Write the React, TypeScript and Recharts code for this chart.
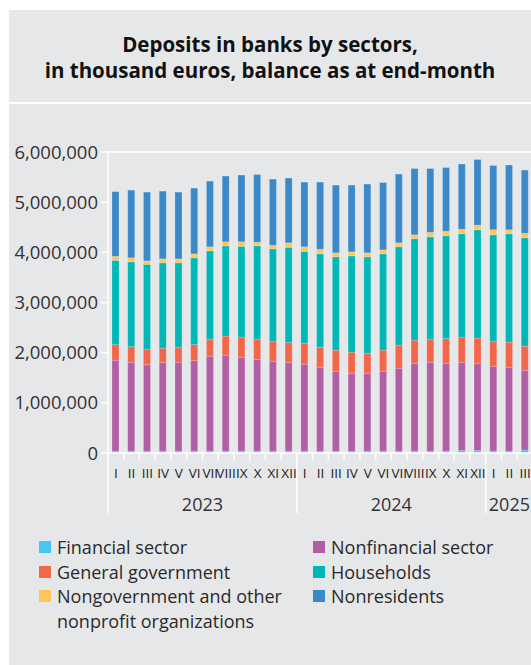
import { BarChart, Bar, XAxis, YAxis, ReferenceLine } from 'recharts'

const yearLabels = ['2023', '2024', '2025']
const monthsPerYear = [12, 12, 3]
const romanMonths = ['I', 'II', 'III', 'IV', 'V', 'VI', 'VII', 'VIII', 'IX', 'X', 'XI', 'XII']
const yTicks = [0, 1000000, 2000000, 3000000, 4000000, 5000000, 6000000]

// thousand euros, end of month, Jan 2023 .. Mar 2025
const financial = [
  40000, 40000, 40000, 40000, 40000, 40000, 40000, 40000, 40000, 40000, 40000, 40000,
  40000, 40000, 40000, 40000, 40000, 40000, 40000, 40000, 40000, 40000, 50000, 50000,
  40000, 40000, 60000,
]
const nonfinancial = [
  1810000, 1770000, 1720000, 1760000, 1770000, 1800000, 1890000, 1910000, 1870000, 1820000, 1790000, 1760000,
  1730000, 1670000, 1590000, 1550000, 1550000, 1590000, 1650000, 1750000, 1770000, 1750000, 1760000, 1740000,
  1690000, 1670000, 1590000,
]
const generalGov = [
  310000, 310000, 310000, 290000, 300000, 320000, 340000, 380000, 400000, 410000, 400000, 400000,
  420000, 400000, 420000, 420000, 400000, 420000, 460000, 460000, 460000, 490000, 500000, 500000,
  500000, 500000, 480000,
]
const households = [
  1680000, 1690000, 1690000, 1700000, 1680000, 1730000, 1760000, 1800000, 1810000, 1860000, 1840000, 1900000,
  1830000, 1860000, 1860000, 1920000, 1920000, 1920000, 1960000, 2020000, 2040000, 2050000, 2060000, 2160000,
  2120000, 2160000, 2160000,
]
const nongov = [
  80000, 80000, 70000, 80000, 80000, 80000, 80000, 80000, 90000, 70000, 70000, 90000,
  90000, 90000, 80000, 80000, 80000, 80000, 80000, 80000, 90000, 90000, 90000, 90000,
  100000, 80000, 90000,
]
const nonresidents = [
  1290000, 1350000, 1370000, 1350000, 1330000, 1310000, 1310000, 1310000, 1330000, 1350000, 1320000, 1290000,
  1290000, 1340000, 1350000, 1330000, 1370000, 1340000, 1370000, 1320000, 1270000, 1270000, 1300000, 1310000,
  1280000, 1290000, 1260000,
]

const series = [
  { key: 'financial', name: 'Financial sector', color: '#47c6ef', values: financial },
  { key: 'nonfinancial', name: 'Nonfinancial sector', color: '#b05fa5', values: nonfinancial },
  { key: 'generalGov', name: 'General government', color: '#f26649', values: generalGov },
  { key: 'households', name: 'Households', color: '#00b7b8', values: households },
  { key: 'nongov', name: 'Nongovernment and other nonprofit organizations', color: '#fec759', values: nongov },
  { key: 'nonresidents', name: 'Nonresidents', color: '#3b89c9', values: nonresidents },
]

const rows: { month: string; year: string }[] = []
yearLabels.forEach((year, yi) => {
  for (let m = 0; m < monthsPerYear[yi]; m++) rows.push({ month: romanMonths[m], year })
})

const data = rows.map((r, i) => {
  const row: Record<string, string | number> = { id: `${r.year}-${r.month}`, ...r }
  series.forEach((s) => (row[s.key] = s.values[i]))
  return row
})

const FONT = '"Open Sans", "Noto Sans", sans-serif'
const CHART_W = 524
const CHART_H = 420
const Y_W = 99
const BAND = (CHART_W - Y_W) / data.length

function MonthTick(props: any) {
  const { x, y, index } = props
  const band = typeof props.width === 'number' && props.visibleTicksCount ? props.width / props.visibleTicksCount : BAND
  const row = rows[index]
  const left = x - band / 2
  const first = index === 0 || rows[index - 1].year !== row.year
  const count = rows.filter((r) => r.year === row.year).length
  return (
    <g>
      <line x1={left} x2={left} y1={y} y2={y + (first ? 60 : 7)} stroke="#fff" strokeWidth={1.5} />
      <text x={x} y={y + 25} textAnchor="middle" fontSize={13.5} fill="#222" fontFamily={FONT}>
        {row.month}
      </text>
      {first && (
        <text x={left + (count * band) / 2} y={y + 58} textAnchor="middle" fontSize={18} fill="#333" fontFamily={FONT}>
          {row.year}
        </text>
      )}
    </g>
  )
}

export default function App() {
  return (
    <div style={{ position: 'fixed', top: 10, left: 9, fontFamily: FONT }}>
      <div
        style={{
          width: 522,
          height: 92,
          boxSizing: 'border-box',
          paddingTop: 21,
          background: '#e6e7e9',
          textAlign: 'center',
          fontWeight: 700,
          fontSize: 20.5,
          lineHeight: '26px',
          color: '#111',
        }}
      >
        Deposits in banks by sectors,
        <br />
        in thousand euros, balance as at end-month
      </div>
      <div
        style={{
          marginTop: 2,
          width: 522,
          height: 561,
          background: '#e6e7e9',
          position: 'relative',
          overflow: 'hidden',
        }}
      >
        <BarChart width={CHART_W} height={CHART_H} data={data} margin={{ top: 48, right: 0, left: 0, bottom: 0 }}>
          <XAxis
            dataKey="id"
            interval={0}
            height={71}
            tickSize={0}
            tickMargin={0}
            axisLine={{ stroke: '#fff', strokeWidth: 1.5 }}
            tickLine={false}
            tick={<MonthTick />}
          />
          <YAxis
            width={Y_W}
            domain={[0, 6000000]}
            ticks={yTicks}
            interval={0}
            tickSize={7}
            tickMargin={3}
            axisLine={{ stroke: '#fff', strokeWidth: 1.5 }}
            tickLine={{ stroke: '#fff', strokeWidth: 1.5 }}
            tick={{ fontSize: 18.5, fill: '#333', fontFamily: FONT }}
            tickFormatter={(v: number) => v.toLocaleString('en-US')}
          />
          <ReferenceLine y={6000000} stroke="#fff" strokeWidth={1.5} />
          {series.map((s) => (
            <Bar
              key={s.key}
              dataKey={s.key}
              name={s.name}
              stackId="a"
              fill={s.color}
              stroke="rgba(255,255,255,0.3)"
              strokeWidth={0.6}
              barSize={7}
              isAnimationActive={false}
            />
          ))}
        </BarChart>
        <div
          style={{
            position: 'absolute',
            left: 30,
            top: 431,
            display: 'grid',
            gridTemplateColumns: '274px 200px',
            fontSize: 18,
            lineHeight: '24.5px',
            color: '#2a2a2a',
          }}
        >
          {series.map((s) => (
            <div key={s.key} style={{ display: 'flex', alignItems: 'flex-start' }}>
              <span
                style={{ width: 12, height: 12, background: s.color, marginTop: 6, marginRight: 6, flexShrink: 0 }}
              />
              <span style={{ maxWidth: 250 }}>{s.name}</span>
            </div>
          ))}
        </div>
      </div>
    </div>
  )
}
